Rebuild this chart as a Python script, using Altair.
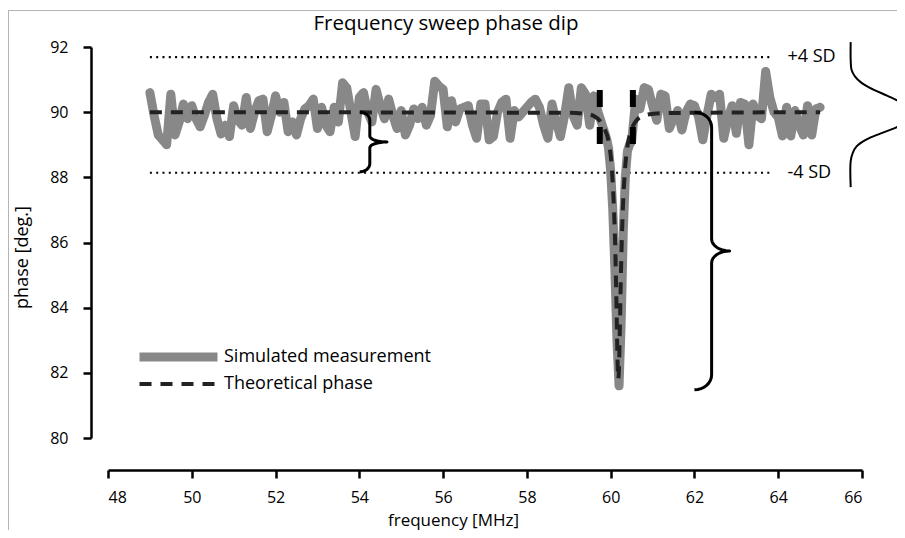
import altair as alt
import numpy as np
import pandas as pd

# ---------------- data ----------------
series_names = ["Simulated measurement", "Theoretical phase"]

meas_freq = [
    49.0, 49.1, 49.2, 49.3, 49.4, 49.5, 49.6, 49.7, 49.8, 49.9,
    50.0, 50.1, 50.2, 50.3, 50.4, 50.5, 50.6, 50.7, 50.8, 50.9,
    51.0, 51.1, 51.2, 51.3, 51.4, 51.5, 51.6, 51.7, 51.8, 51.9,
    52.0, 52.1, 52.2, 52.3, 52.4, 52.5, 52.6, 52.7, 52.8, 52.9,
    53.0, 53.1, 53.2, 53.3, 53.4, 53.5, 53.6, 53.7, 53.8, 53.9,
    54.0, 54.1, 54.2, 54.3, 54.4, 54.5, 54.6, 54.7, 54.8, 54.9,
    55.0, 55.1, 55.2, 55.3, 55.4, 55.5, 55.6, 55.7, 55.8, 55.9,
    56.0, 56.1, 56.2, 56.3, 56.4, 56.5, 56.6, 56.7, 56.8, 56.9,
    57.0, 57.1, 57.2, 57.3, 57.4, 57.5, 57.6, 57.7, 57.8, 57.9,
    58.0, 58.1, 58.2, 58.3, 58.4, 58.5, 58.6, 58.7, 58.8, 58.9,
    59.0, 59.1, 59.2, 59.3, 59.4, 59.5, 59.6, 59.7, 59.8, 59.9,
    59.95, 60.0, 60.05, 60.1, 60.15, 60.2, 60.25, 60.3, 60.35, 60.4,
    60.45, 60.5, 60.6, 60.7, 60.8, 60.9,
    61.0, 61.1, 61.2, 61.3, 61.4, 61.5, 61.6, 61.7, 61.8, 61.9,
    62.0, 62.1, 62.2, 62.3, 62.4, 62.5, 62.6, 62.7, 62.8, 62.9,
    63.0, 63.1, 63.2, 63.3, 63.4, 63.5, 63.6, 63.7, 63.8, 63.9,
    64.0, 64.1, 64.2, 64.3, 64.4, 64.5, 64.6, 64.7, 64.8, 64.9,
    65.0,
]
meas_phase = [
    90.6, 89.9, 89.3, 89.15, 89.0, 90.55, 89.3, 89.7, 90.25, 89.8,
    90.2, 89.8, 89.55, 89.9, 90.3, 90.55, 89.8, 89.33, 89.6, 89.25,
    90.2, 89.75, 89.6, 90.45, 89.5, 90.0, 90.35, 90.4, 89.4, 89.9,
    90.5, 90.0, 90.3, 89.4, 89.7, 89.3, 89.8, 90.1, 90.2, 90.4,
    89.5, 90.15, 89.6, 89.4, 90.15, 89.7, 90.9, 90.75, 90.0, 89.25,
    90.45, 90.6, 90.0, 89.7, 90.7, 90.2, 89.8, 90.4, 89.9, 89.5,
    90.05, 89.3, 89.6, 90.1, 89.8, 90.15, 89.6, 89.9, 90.95, 90.8,
    90.7, 89.55, 90.35, 89.7, 90.1, 90.15, 90.2, 89.6, 89.2, 90.25,
    90.25, 89.15, 89.25, 90.0, 90.3, 90.4, 89.2, 90.05, 89.85, 90.0,
    90.15, 90.3, 90.4, 90.15, 89.6, 89.2, 90.25, 89.7, 89.25, 89.9,
    90.75, 89.9, 89.6, 90.75, 90.55, 89.6, 90.5, 90.0, 89.6, 89.2,
    88.9, 88.2, 87.0, 85.2, 83.0, 81.6, 83.5, 86.3, 88.0, 88.8,
    89.0, 89.1, 90.4, 90.1, 90.75, 90.7,
    90.2, 89.75, 90.55, 90.5, 89.5, 89.8, 90.05, 89.45, 90.0, 90.25,
    90.2, 89.85, 89.15, 89.9, 90.55, 90.45, 90.55, 89.2, 89.8, 90.2,
    89.35, 90.3, 90.25, 89.0, 90.25, 89.9, 89.8, 91.25, 90.45, 90.0,
    89.85, 89.27, 90.15, 89.27, 90.05, 89.6, 89.3, 90.2, 89.3, 90.1,
    90.15,
]

theory_freq = [49.0, 59.0, 59.4, 59.6, 59.75, 59.85, 59.95, 60.02, 60.07, 60.11,
               60.14, 60.16, 60.18, 60.2, 60.22, 60.25, 60.29, 60.34, 60.4, 60.48,
               60.6, 60.8, 61.2, 65.0]
theory_phase = [90.0, 89.98, 89.95, 89.88, 89.72, 89.5, 89.1, 88.4, 87.3, 85.8,
                84.0, 82.6, 81.8, 82.2, 83.4, 85.3, 87.0, 88.2, 88.95, 89.4,
                89.72, 89.9, 89.97, 90.0]

sd_levels = [91.69, 88.14]
sd_labels = ["+4 SD", "-4 SD"]
sd_start, sd_end, sd_label_x = 49.0, 63.85, 64.22

marker_freq = [59.74, 60.53]
marker_top, marker_bottom = 90.68, 88.99

gauss_base = 65.73
gauss_phase = [92.15, 91.6, 91.3, 91.1, 90.9, 90.7, 90.5, 90.3, 90.1, 89.92,
               89.75, 89.55, 89.35, 89.15, 88.95, 88.75, 88.5, 87.7]
gauss_width = [0.0, 0.0, 0.02, 0.1, 0.26, 0.53, 0.88, 1.19, 1.36, 1.41,
               1.36, 1.12, 0.72, 0.36, 0.14, 0.05, 0.0, 0.0]

brace_x0 = [54.01, 62.0]
brace_x1 = [54.25, 62.41]
brace_x2 = [54.66, 62.84]
brace_top = [90.0, 90.0]
brace_bottom = [88.17, 81.48]
brace_ry_end = [0.25, 0.46]
brace_ry_mid = [0.18, 0.37]

# ---------------- tables ----------------
meas_df = pd.DataFrame({"freq": meas_freq, "phase": meas_phase, "series": series_names[0]})
theory_df = pd.DataFrame({"freq": theory_freq, "phase": theory_phase, "series": series_names[1]})
sd_df = pd.DataFrame({"level": sd_levels, "label": sd_labels, "x0": sd_start, "x1": sd_end, "lx": sd_label_x})
marker_df = pd.DataFrame({"freq": marker_freq, "top": marker_top, "bottom": marker_bottom})
gauss_df = pd.DataFrame({"x": [gauss_base + w for w in gauss_width], "phase": gauss_phase,
                         "idx": list(range(len(gauss_phase)))})


def brace_path(x0, x1, x2, top, bottom, ry_end, ry_mid, n=9):
    mid = (top + bottom) / 2
    rx, rx2 = x1 - x0, x2 - x1
    t = np.linspace(0, np.pi / 2, n)
    pts = []
    pts += [(x0 + rx * np.sin(a), top - ry_end * (1 - np.cos(a))) for a in t]
    pts += [(x1 + rx2 * (1 - np.cos(a)), mid + ry_mid * (1 - np.sin(a))) for a in t]
    pts += [(x1 + rx2 * (1 - np.cos(a)), mid - ry_mid * (1 - np.sin(a))) for a in t[::-1]]
    pts += [(x0 + rx * np.sin(a), bottom + ry_end * (1 - np.cos(a))) for a in t[::-1]]
    return pts


rows = []
for b in range(len(brace_x0)):
    pts = brace_path(brace_x0[b], brace_x1[b], brace_x2[b], brace_top[b], brace_bottom[b],
                     brace_ry_end[b], brace_ry_mid[b])
    for i, (px, py) in enumerate(pts):
        rows.append({"brace": b, "idx": i, "x": px, "y": py})
brace_df = pd.DataFrame(rows)
one_df = pd.DataFrame({"a": [0]})

# ---------------- chart ----------------
FONT = "Open Sans"
W, H = 754, 391

xscale = alt.Scale(domain=[48, 66], nice=False, zero=False)
yscale = alt.Scale(domain=[80, 92], nice=False, zero=False)

x_axis = alt.Axis(values=list(range(48, 67, 2)), offset=32, tickSize=8, tickWidth=2.5,
                  domainWidth=2.5, domainColor="black", tickColor="black",
                  labelFont=FONT, labelFontSize=16, labelColor="black", labelPadding=11,
                  title="frequency [MHz]", titleFont=FONT, titleFontSize=17,
                  titleFontWeight="normal", titleColor="black", titlePadding=7, titleX=345)
y_axis = alt.Axis(values=list(range(80, 93, 2)), offset=17, tickSize=8, tickWidth=2.5,
                  domainWidth=2.5, domainColor="black", tickColor="black",
                  labelFont=FONT, labelFontSize=16, labelColor="black", labelPadding=15,
                  title="phase [deg.]", titleFont=FONT, titleFontSize=18,
                  titleFontWeight="normal", titleColor="black", titlePadding=18, titleY=210)

leg = alt.Legend(title=None, orient="none", legendX=27, legendY=299, symbolType="stroke",
                 symbolSize=6084, clipHeight=22, labelFont=FONT, labelFontSize=18,
                 labelColor="black", labelOffset=2, labelLimit=400, rowPadding=5)

enc_series = dict(
    color=alt.Color("series:N", scale=alt.Scale(domain=series_names, range=["#888888", "#222222"]), legend=leg),
    strokeDash=alt.StrokeDash("series:N", scale=alt.Scale(domain=series_names, range=[[1, 0], [12, 9]]), legend=leg),
    strokeWidth=alt.StrokeWidth("series:N", scale=alt.Scale(domain=series_names, range=[9, 4]), legend=leg),
)

frame_top = alt.Chart(one_df).mark_rule(color="#b4b4b4", strokeWidth=1).encode(
    x=alt.value(-100), x2=alt.value(W + 35), y=alt.value(-36.5))
frame_left = alt.Chart(one_df).mark_rule(color="#b4b4b4", strokeWidth=1).encode(
    x=alt.value(-99.5), y=alt.value(-36.5), y2=alt.value(H + 95))

sd_lines = alt.Chart(sd_df).mark_rule(color="black", strokeWidth=2.2, strokeDash=[2, 4.3]).encode(
    x=alt.X("x0:Q", scale=xscale, axis=x_axis), x2="x1:Q",
    y=alt.Y("level:Q", scale=yscale, axis=y_axis))
sd_text = alt.Chart(sd_df).mark_text(align="left", baseline="middle", font=FONT, fontSize=18,
                                     color="black").encode(
    x="lx:Q", y="level:Q", text="label:N")

meas = alt.Chart(meas_df).mark_line(strokeCap="round", strokeJoin="round").encode(
    x="freq:Q", y="phase:Q", **enc_series)
theory = alt.Chart(theory_df).mark_line(interpolate="monotone", strokeCap="butt").encode(
    x="freq:Q", y="phase:Q", **enc_series)

markers = alt.Chart(marker_df).mark_rule(color="black", strokeWidth=6, strokeDash=[17, 20]).encode(
    x="freq:Q", y="top:Q", y2="bottom:Q")

braces = alt.Chart(brace_df).mark_line(color="black", strokeWidth=3, strokeJoin="round").encode(
    x="x:Q", y="y:Q", order="idx:Q", detail="brace:N")

gauss = alt.Chart(gauss_df).mark_line(color="black", strokeWidth=2, interpolate="catmull-rom").encode(
    x="x:Q", y="phase:Q", order="idx:Q")

chart = alt.layer(
    frame_top, frame_left, sd_lines, sd_text, meas, theory, markers, braces, gauss
).properties(
    width=W, height=H,
    autosize=alt.AutoSizeParams(type="none"),
    padding={"left": 100, "top": 39, "right": 35, "bottom": 92},
    title=alt.TitleParams("Frequency sweep phase dip", font=FONT, fontSize=20.5, fontWeight="normal",
                          color="black", anchor="middle", frame="group", dx=-39, dy=30, offset=6),
).configure_view(stroke=None).configure_axis(grid=False)

chart.save("out.html", embed_options={"renderer": "svg", "actions": False})
